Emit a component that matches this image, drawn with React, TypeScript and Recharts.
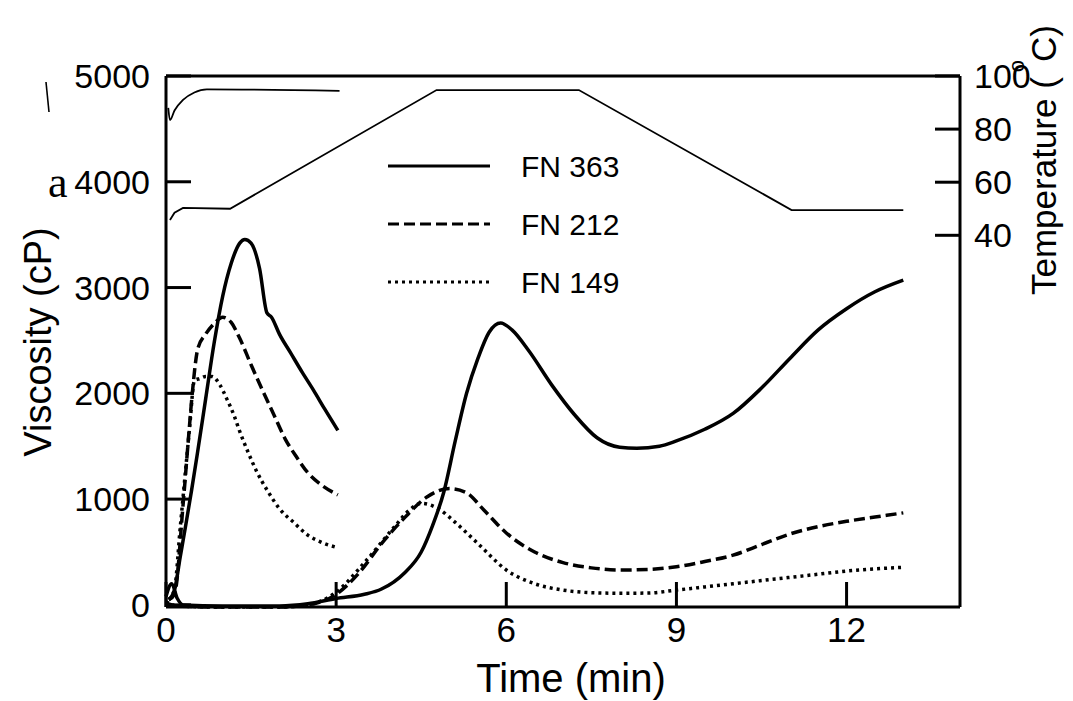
import React from 'react';
import { LineChart, Line, XAxis, YAxis } from 'recharts';

// short run (0-3 min)
const shortTime363 = [0.05, 0.15, 0.25, 0.35, 0.45, 0.55, 0.7, 0.85, 1.0, 1.15, 1.3, 1.39, 1.5, 1.65, 1.78, 1.86, 2.0, 2.2, 2.4, 2.6, 2.8, 3.03];
const shortFN363 = [50, 140, 450, 760, 1080, 1420, 1950, 2480, 2920, 3230, 3420, 3455, 3420, 3180, 2760, 2720, 2560, 2380, 2200, 2030, 1850, 1650];
const shortTime212 = [0.05, 0.15, 0.3, 0.4, 0.46, 0.56, 0.7, 0.85, 1.0, 1.15, 1.3, 1.5, 1.7, 1.9, 2.1, 2.3, 2.5, 2.75, 3.03];
const shortFN212 = [50, 100, 940, 1600, 1980, 2420, 2560, 2660, 2720, 2670, 2520, 2270, 2030, 1800, 1570, 1400, 1250, 1130, 1040];
const shortTime149 = [0.05, 0.15, 0.25, 0.35, 0.42, 0.5, 0.6, 0.7, 0.81, 0.95, 1.07, 1.2, 1.3, 1.45, 1.6, 1.8, 2.0, 2.25, 2.5, 2.75, 3.03];
const shortFN149 = [50, 150, 725, 1300, 1700, 2120, 2140, 2160, 2160, 2080, 1950, 1790, 1640, 1440, 1260, 1070, 910, 780, 660, 590, 540];

// long run (0-13 min)
const longTime363 = [0, 0.1, 0.2, 0.3, 1, 2, 2.5, 3, 3.5, 3.8, 4.2, 4.5, 4.7, 4.9, 5.1, 5.3, 5.5, 5.7, 5.9, 6.1, 6.4, 6.8, 7.2, 7.6, 8.0, 8.3, 8.7, 9.0, 9.5, 10, 10.5, 11, 11.5, 12, 12.5, 13];
const longFN363 = [80, 200, 60, 0, -10, -10, 10, 60, 100, 150, 300, 500, 750, 1070, 1550, 2000, 2330, 2580, 2665, 2600, 2400, 2080, 1800, 1580, 1490, 1480, 1500, 1550, 1660, 1810, 2050, 2330, 2600, 2800, 2960, 3070];
const longTime212 = [0, 0.2, 1, 2, 2.5, 3, 3.4, 3.8, 4.2, 4.6, 5.0, 5.3, 5.6, 6.0, 6.5, 7.0, 7.5, 8, 8.5, 9, 9.5, 10, 10.5, 11, 11.5, 12, 12.5, 13];
const longFN212 = [20, -10, -20, -20, 0, 100, 300, 580, 820, 1020, 1100, 1060, 900, 680, 500, 400, 350, 330, 335, 360, 410, 470, 570, 670, 740, 790, 830, 870];
const longTime149 = [0, 0.2, 1, 2, 2.5, 3, 3.5, 4.0, 4.3, 4.5, 4.8, 5.1, 5.5, 6.0, 6.5, 7, 7.5, 8, 8.5, 9, 9.5, 10, 10.5, 11, 11.5, 12, 12.5, 13];
const longFN149 = [30, -10, -20, -20, 0, 120, 400, 720, 900, 960, 910, 780, 580, 330, 200, 140, 115, 110, 112, 140, 170, 200, 230, 260, 290, 320, 340, 355];

// temperature profiles
const tempTimeShort = [0.04, 0.07, 0.15, 0.3, 0.5, 0.72, 3.06];
const tempShort = [88, 83.4, 87, 91, 93.8, 95, 94.4];
const tempTimeLong = [0.07, 0.15, 0.3, 1.13, 4.77, 7.28, 11.03, 13.0];
const tempLong = [45.8, 48.5, 50.3, 50, 94.7, 94.7, 49.5, 49.5];

const timeTicks = [0, 3, 6, 9, 12];
const viscTicks = [0, 1000, 2000, 3000, 4000, 5000];
const tempTicks = [40, 60, 80, 100];
const topTicks = [1, 2, 3];

const legendItems = [
  { name: 'FN 363', dash: undefined },
  { name: 'FN 212', dash: '11 5' },
  { name: 'FN 149', dash: '3 4' },
];

const zip = (t: number[], v: number[]) => t.map((x, i) => ({ t: x, v: v[i] }));

const FONT = '"Liberation Sans", Arial, sans-serif';
const TICK_LEN = 25;
const LW = 3.5;
const TICK_FONT = 34;

const BottomTick = (props: any) => {
  const { x, y, payload } = props;
  return (
    <g>
      <line x1={x} y1={y} x2={x} y2={y - TICK_LEN} stroke="#000" strokeWidth={3} />
      <text x={x} y={y + 35} textAnchor="middle" fontSize={TICK_FONT + 1} fontFamily={FONT} fill="#000">
        {payload.value}
      </text>
    </g>
  );
};

const TopTick = (props: any) => {
  const { x, y } = props;
  return <line x1={x} y1={y} x2={x} y2={y + TICK_LEN} stroke="#000" strokeWidth={3} />;
};

const LeftTick = (props: any) => {
  const { x, y, payload } = props;
  return (
    <g>
      <line x1={x} y1={y} x2={x + TICK_LEN} y2={y} stroke="#000" strokeWidth={3} />
      <text x={x - 16} y={y} textAnchor="end" dominantBaseline="central" fontSize={TICK_FONT} fontFamily={FONT} fill="#000">
        {payload.value}
      </text>
    </g>
  );
};

const RightTick = (props: any) => {
  const { x, y, payload } = props;
  return (
    <g>
      <line x1={x} y1={y} x2={x - TICK_LEN} y2={y} stroke="#000" strokeWidth={3} />
      <text x={x + 14} y={y} textAnchor="start" dominantBaseline="central" fontSize={TICK_FONT} fontFamily={FONT} fill="#000">
        {payload.value}
      </text>
    </g>
  );
};

export default function App() {
  const axisLine = { stroke: '#000', strokeWidth: 3 };
  return (
    <div style={{ position: 'absolute', left: 0, top: 0, width: 1073, height: 701, background: '#fff' }}>
      <LineChart width={1073} height={701} margin={{ top: 46, right: 53, bottom: 64, left: 106 }}>
        <XAxis
          xAxisId="time"
          dataKey="t"
          type="number"
          domain={[0, 14]}
          ticks={timeTicks}
          height={30}
          axisLine={axisLine}
          tickLine={false}
          tickSize={0}
          tickMargin={0}
          tick={<BottomTick />}
          label={{
            content: (p: any) => (
              <text
                x={p.viewBox.x + p.viewBox.width * 0.5 + 8}
                y={p.viewBox.y + 85}
                textAnchor="middle"
                fontSize={40}
                fontFamily={FONT}
                fill="#000"
              >
                Time (min)
              </text>
            ),
          }}
        />
        <XAxis
          xAxisId="top"
          orientation="top"
          type="number"
          domain={[0, 4]}
          ticks={topTicks}
          height={30}
          axisLine={axisLine}
          tickLine={false}
          tickSize={0}
          tickMargin={0}
          tick={<TopTick />}
        />
        <YAxis
          yAxisId="visc"
          type="number"
          domain={[0, 5000]}
          ticks={viscTicks}
          width={60}
          axisLine={axisLine}
          tickLine={false}
          tickSize={0}
          tickMargin={0}
          tick={<LeftTick />}
          label={{
            content: () => {
              const cx = 38;
              const cy = 342;
              return (
                <text
                  x={cx}
                  y={cy}
                  transform={`rotate(-90 ${cx} ${cy})`}
                  textAnchor="middle"
                  dominantBaseline="central"
                  fontSize={38}
                  fontFamily={FONT}
                  fill="#000"
                >
                  Viscosity (cP)
                </text>
              );
            },
          }}
        />
        <YAxis
          yAxisId="temp"
          orientation="right"
          type="number"
          domain={[-100, 100]}
          ticks={tempTicks}
          width={60}
          axisLine={axisLine}
          tickLine={false}
          tickSize={0}
          tickMargin={0}
          tick={<RightTick />}
          label={{
            content: () => {
              const cx = 1043;
              const cy = 160;
              return (
                <text
                  x={cx}
                  y={cy}
                  transform={`rotate(-90 ${cx} ${cy})`}
                  textAnchor="middle"
                  dominantBaseline="central"
                  fontSize={35}
                  fontFamily={FONT}
                  fill="#000"
                >
                  Temperature (
                  <tspan fontSize={22} dx={5} dy={-27}>o</tspan>
                  <tspan dx={-2} dy={27}>C)</tspan>
                </text>
              );
            },
          }}
        />

        {/* short run */}
        <Line xAxisId="time" yAxisId="visc" data={zip(shortTime363, shortFN363)} dataKey="v" type="monotone" stroke="#000" strokeWidth={LW} dot={false} isAnimationActive={false} />
        <Line xAxisId="time" yAxisId="visc" data={zip(shortTime212, shortFN212)} dataKey="v" type="monotone" stroke="#000" strokeWidth={LW} strokeDasharray="11 5" dot={false} isAnimationActive={false} />
        <Line xAxisId="time" yAxisId="visc" data={zip(shortTime149, shortFN149)} dataKey="v" type="monotone" stroke="#000" strokeWidth={LW} strokeDasharray="3 4" dot={false} isAnimationActive={false} />

        {/* long run */}
        <Line xAxisId="time" yAxisId="visc" data={zip(longTime363, longFN363)} dataKey="v" type="monotone" stroke="#000" strokeWidth={LW} dot={false} isAnimationActive={false} />
        <Line xAxisId="time" yAxisId="visc" data={zip(longTime212, longFN212)} dataKey="v" type="monotone" stroke="#000" strokeWidth={LW} strokeDasharray="11 5" dot={false} isAnimationActive={false} />
        <Line xAxisId="time" yAxisId="visc" data={zip(longTime149, longFN149)} dataKey="v" type="monotone" stroke="#000" strokeWidth={LW} strokeDasharray="3 4" dot={false} isAnimationActive={false} />

        {/* temperature */}
        <Line xAxisId="time" yAxisId="temp" data={zip(tempTimeShort, tempShort)} dataKey="v" type="monotone" stroke="#000" strokeWidth={1.8} dot={false} isAnimationActive={false} />
        <Line xAxisId="time" yAxisId="temp" data={zip(tempTimeLong, tempLong)} dataKey="v" type="linear" stroke="#000" strokeWidth={1.8} dot={false} isAnimationActive={false} />
      </LineChart>

      <svg width={270} height={170} style={{ position: 'absolute', left: 380, top: 140 }}>
        {legendItems.map((item, i) => (
          <g key={item.name}>
            <line x1={8} x2={110} y1={26 + i * 58} y2={26 + i * 58} stroke="#000" strokeWidth={3} strokeDasharray={item.dash} />
            <text x={141} y={26 + i * 58} dominantBaseline="central" fontSize={30} fontFamily={FONT} fill="#000">
              {item.name}
            </text>
          </g>
        ))}
      </svg>

      <svg width={20} height={40} style={{ position: 'absolute', left: 40, top: 80 }}>
        <line x1={6} y1={2} x2={9} y2={32} stroke="#000" strokeWidth={1.6} />
      </svg>

      <div
        style={{
          position: 'absolute',
          left: 48,
          top: 161,
          fontFamily: '"Liberation Serif", "DejaVu Serif", serif',
          fontSize: 44,
          lineHeight: '44px',
        }}
      >
        a
      </div>
    </div>
  );
}
